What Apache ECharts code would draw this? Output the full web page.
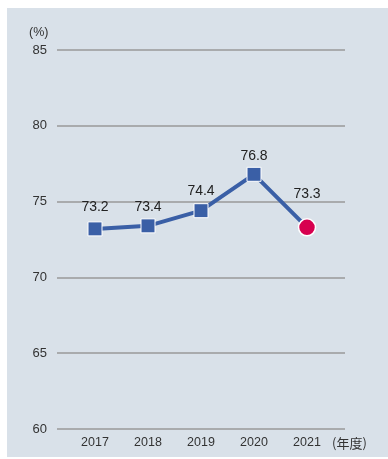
<!DOCTYPE html>
<html>
<head>
<meta charset="utf-8">
<script src="https://cdn.jsdelivr.net/npm/echarts@6/dist/echarts.min.js"></script>
<style>
  html, body { margin: 0; padding: 0; background: #ffffff; }
  #chart { width: 388px; height: 459px; }
</style>
</head>
<body>
<div id="chart"></div>
<script>
// Fiscal years and rates (%)
const years = ['2017', '2018', '2019', '2020', '2021'];
const rates = [73.2, 73.4, 74.4, 76.8, 73.3];
const yMin = 60;
const yMax = 85;
const yStep = 5;

// gap between each point and its value label
const labelGaps = [7.5, 4.5, 5, 3.5, 17];

const FONT = '"Liberation Sans", Arial, sans-serif';
const BLUE = '#3a5fa6';
const RED = '#d7004f';

const seriesData = rates.map((v, i) => {
  const item = { value: v, label: { distance: labelGaps[i] } };
  if (i === rates.length - 1) {
    item.symbol = 'circle';
    item.symbolSize = 17;
    item.itemStyle = { color: RED, borderColor: '#ffffff', borderWidth: 1.5 };
  }
  return item;
});

const chart = echarts.init(document.getElementById('chart'), null, { renderer: 'canvas' });

chart.setOption({
  animation: false,
  backgroundColor: 'transparent',
  textStyle: { fontFamily: FONT },
  graphic: [
    {
      type: 'rect',
      z: -10,
      shape: { x: 7, y: 8, width: 381, height: 449 },
      style: { fill: '#d9e1e9' }
    },
    {
      type: 'text',
      left: 29,
      top: 26,
      style: { text: '(%)', font: '12.5px ' + FONT, fill: '#333333' }
    },
    {
      type: 'text',
      x: 332,
      y: 443.5,
      style: {
        text: '(年度)',
        font: '13px "Noto Sans CJK JP", ' + FONT,
        fill: '#333333',
        verticalAlign: 'middle'
      }
    }
  ],
  grid: [
    // value scale with horizontal rules
    { left: 57, right: 43, top: 50, bottom: 30 },
    // plotting area for the yearly points
    { left: 68.5, right: 54.5, top: 50, bottom: 30 }
  ],
  xAxis: [
    { type: 'value', gridIndex: 0, show: false, min: 0, max: 1 },
    {
      type: 'category',
      gridIndex: 1,
      data: years,
      boundaryGap: true,
      axisLine: { show: false },
      axisTick: { show: false },
      axisLabel: { color: '#333333', fontSize: 12.5, fontFamily: FONT, margin: 7 }
    }
  ],
  yAxis: [
    {
      type: 'value',
      gridIndex: 0,
      min: yMin,
      max: yMax,
      interval: yStep,
      axisLine: { show: false },
      axisTick: { show: false },
      axisLabel: { color: '#333333', fontSize: 13, fontFamily: FONT, margin: 10 },
      splitLine: { show: true, lineStyle: { color: '#999999', width: 1.5 } }
    },
    {
      type: 'value',
      gridIndex: 1,
      min: yMin,
      max: yMax,
      interval: yStep,
      show: false
    }
  ],
  series: [
    {
      type: 'line',
      xAxisIndex: 1,
      yAxisIndex: 1,
      data: seriesData,
      symbol: 'rect',
      symbolSize: 14,
      lineStyle: { color: BLUE, width: 4 },
      itemStyle: { color: BLUE, borderColor: '#ffffff', borderWidth: 1 },
      label: {
        show: true,
        position: 'top',
        color: '#222222',
        fontSize: 14,
        fontFamily: FONT,
        formatter: p => p.value.toFixed(1)
      },
      z: 3
    }
  ]
});
</script>
</body>
</html>
